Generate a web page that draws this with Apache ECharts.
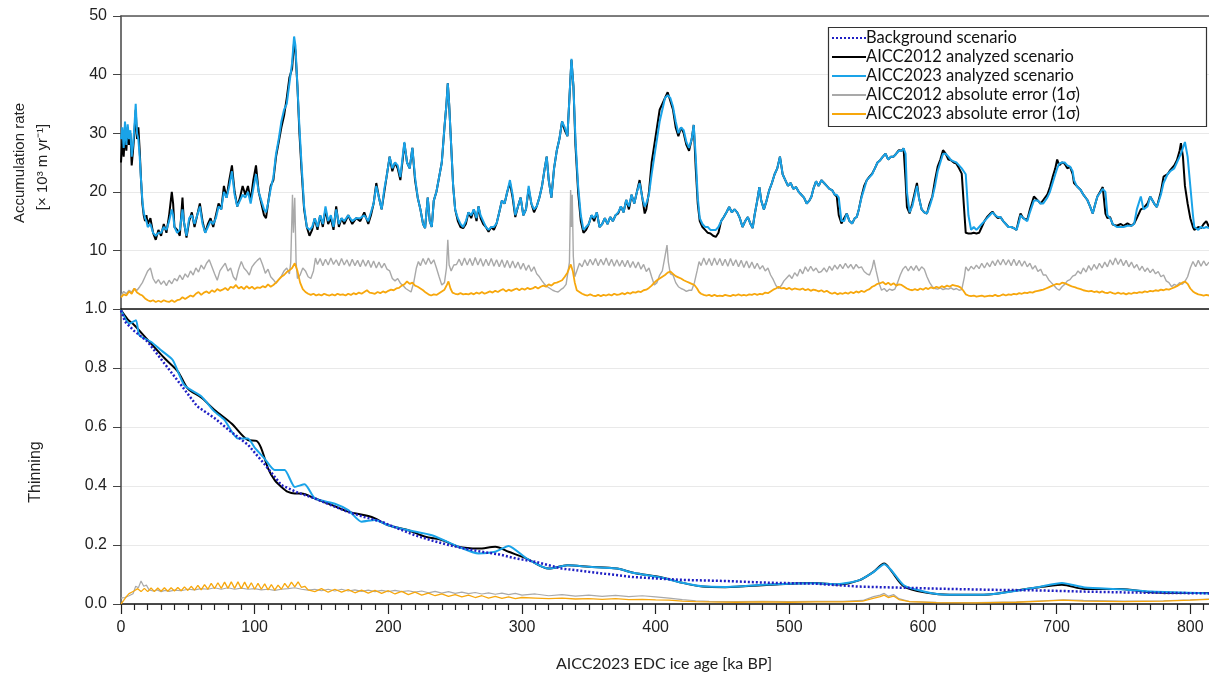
<!DOCTYPE html>
<html>
<head>
<meta charset="utf-8">
<script src="https://cdn.jsdelivr.net/npm/echarts@6/dist/echarts.min.js"></script>
<style>html,body{margin:0;padding:0;background:#fff}#c{width:1209px;height:675px}</style>
</head>
<body>
<div id="c"></div>
<script>
// ---- DATA (flat [age, value, age, value, ...]) ----
const xTickLabels = [0, 100, 200, 300, 400, 500, 600, 700, 800];
const accTicks = [0, 10, 20, 30, 40, 50];
const thinTicks = [0, 0.2, 0.4, 0.6, 0.8, 1.0];

const acc2012 = [0,25,1,29,2,26,3,30,4,27,5,31,6,28,7,30,8,24.5,9,27,10,30,11,34,12,29,13,31,14,27,15,22,16,18,17,16,18,15,19,16,20,14.5,22,15.5,24,13,26,11.8,28,13.5,30,12.5,32,14.5,34,13,36,16,38,20,39,18,40,14,42,13.5,44,12.5,46,19,47,15,49,12.2,51,15,53,16.5,55,14,57,16,59,18,61,15,63,13,65,14.5,67,15.5,69,14,71,16,73,18,75,17,77,21,79,19,81,22,83,24.5,85,20,87,17.5,89,19,91,21,93,19.5,95,21,97,18.5,99,22,101,24.5,103,20,105,18,107,16,108.5,15.5,110,18,112,21,114,22,116,26,118,28.5,120,31,122,33,124,36,126,39.5,128,41,129.5,45.5,130.5,44,132,38,133.5,30,135,24,137,17,139,14,141,12.5,143,13.5,145,15.5,147,13.5,149,16,151,14,153,17,155,14.5,157,15.5,159,13.5,161,17.5,163,14,165,15.5,167,14.5,170,16,173,14.5,176,15.5,179,15,182,16.5,185,14.5,187,16,189,18,191,21.5,193,19,195,17,197,20,199,23,201,26,203,23.5,205,25,207,24,209,22,211,26,212,28.3,214,25,216,24,218,27.5,220,22,222,19,224,17,226,14.5,227.5,13.8,229.5,19,231,15,232.5,14,234,18.5,236,20,238,22.5,240,25,242,31,243.5,35,244.5,38.5,245.5,35,247,28,248.5,21,250,17,252,15,254,14,256,13.8,258,14.5,260,16.5,262,15.5,264,17,266,15,267.5,17.5,269,15.5,271,14.5,273,14,275,13.2,277,14,279,13.5,281,14.6,283,16.5,285,18.5,287,18,289,20,291,21.5,293,19,295,15.7,297,17.5,299,19,301,16,303,17,305,20.5,307,18,309,16.5,311,17.5,313,19,315,21,317,24,318.5,26,320,22,322,19,324,24,326,27,328,29,330,32,332,30.5,334,29.5,335.5,36,337,42.5,338.5,38,340,28,342,20,344,15,346,13,348,13.5,350,14.5,352,16,354,15,356,16.5,358,14,360,14.5,362,15.5,364,14.5,366,15.7,368,15,370,16,372,16.3,374,17.5,376,16.5,378,18.6,380,17,382,19.5,384,18,386,20,388,22,390,19,391.8,16.3,393,17,395,20,397,25,399,28,401,31,403,34,405,35,407,36,409,37,411,35.5,413,34,415,31,417,29.5,419,31,421,30,423,28,425,27,427,29,428.5,31.4,430,24,431.5,18,433,15,435,14,437,13.5,439,13,441,12.9,443,12.5,445,12.3,447,13,449,15,451,15.7,453,16.5,455,17.4,457,16.5,459,17,461,16.5,463,15.5,465,14,467,15,469,15.7,471,14.5,472.6,13.8,474,16,476,18.5,477.6,20.8,479,18.5,481,17,483,18.5,485,20.3,487,21.5,489,23,491,24,493,26,495,23,497,22,499,21,501,21.5,503,20.5,505,20.8,507,20,509,19.5,511,19,513,18,515,18.5,516.6,19.2,518,20.5,520,21.8,522,21,524,22,526,21.5,528,21,530,20.5,532,20.3,534,19.5,535.5,19.2,537,16,539,14.6,541,15.5,543,16.3,545,15,547,14.6,549,15.5,550.5,15.7,552,17,554,19.2,556,21,558,22,560,22.6,562,23.1,564,24,566,25,568,25.4,570,26,572,26.5,574,25.5,576,26,578,26,580,26.5,582,27.1,584,27,585.5,27.4,587,22,588,17.4,590,16.3,592,18,594,20,595.5,21.5,597,19,599,17,601,16.5,603,16.3,605,18,607,19.2,609,22,611,24.3,613,25.5,615,27.1,617,26.5,619,25.5,621,25.4,623,25,625,24.8,627,24,629,23.1,630.5,18,632,13,634,12.9,636,12.9,638,13,640,12.9,642,13,644,14,646,15,648,15.7,650,16.2,652,16.6,654,16,656,15.5,658,15.7,660,15,662,14.5,664,14,666,14,668,13.8,670,13.5,672,15.5,673,16.3,675,15.5,678,15.2,680,17,683,19.2,686,18.5,688,18,690,18.6,693,19.5,695,20.8,697,22.5,699,24,700.4,25.5,702,24.5,704,25,706,24.8,708,24,710,24.3,712,23,713,21.5,715,21,718,20.3,720,19.5,723,18.6,725,17.5,727,16.3,729,18,730.5,19.2,733,20.2,734.5,20.8,736.5,16.3,738,15.5,740,15.7,742,14.4,745,14.2,748,14.5,750,14.2,753,14.6,756,14.2,758,14.6,760,15.5,763,17,765,17.2,768,18,770,19.2,773,18,775,17.4,778,20,780,22.6,783,23,785,23.7,788,24.5,790,25.4,792,27,793,28.3,794.5,26,796,21,798,18,800,15.5,802,14,803,13.5,806,14,808,13.8,810,14.5,812,15,814,14];

const acc2023 = [0,29,1,31,2,27.5,3,32,4,28,5,31.5,6,29,7,30.5,8,26,9,28,10,31,11,35,12,30,13,29,14,26,15,22,16,18.5,17,16.5,18,15.5,19,15,20,14,22,14.5,24,13,26,12.5,28,13,30,13,32,14,34,13.5,36,15,38,17,39,16,40,14,42,13,44,13.5,46,17,47,15,49,12.5,51,15.5,53,16,55,14.5,57,16,59,17.5,61,14.5,63,13,65,14,67,15,69,14.5,71,15.5,73,17.5,75,17,77,20,79,19,81,21,83,23.5,85,19.5,87,17.5,89,18.5,91,19.5,93,19,95,20,97,18,99,20.5,101,23,103,20,105,18.5,107,17,108.5,16.5,110,18,112,20.5,114,22.5,116,26.5,118,29,120,32,122,34,124,35,126,38.5,128,42,129.5,46.5,130.5,45,132,38,133.5,31,135,25,137,17.5,139,14,141,13.5,143,14,145,15.5,147,14,149,16,151,14.5,153,17.5,155,15,157,16,159,14,161,17,163,14.5,165,15.5,167,15,170,16,173,15,176,15.5,179,15.5,182,16,185,15,187,16.5,189,18,191,21,193,19,195,17,197,20.5,199,23,201,26,203,24,205,25,207,24.5,209,22.5,211,26.5,212,28.5,214,25,216,24,218,27.5,220,22.5,222,19,224,17,226,14.5,227.5,13.8,229.5,19,231,15,232.5,14,234,18.5,236,20,238,22.5,240,25,242,31,243.5,35,244.5,38.5,245.5,35,247,28,248.5,21,250,17,252,15.5,254,14.5,256,14,258,15,260,16.5,262,16,264,17,266,15.5,267.5,17.5,269,16,271,15,273,14,275,13.5,277,14,279,14,281,14.6,283,16.5,285,18.5,287,18,289,20,291,22,293,19.5,295,16,297,17.5,299,19,301,16,303,17,305,21,307,18,309,17,311,17.5,313,19,315,21,317,24,318.5,26,320,22,322,19,324,24,326,27,328,29,330,32,332,31,334,29.5,335.5,36,337,42.7,338.5,38,340,29,342,21,344,16,346,13.5,348,14,350,14.5,352,16,354,15.5,356,16.5,358,14,360,14.5,362,15.5,364,14.5,366,15.7,368,15,370,16,372,16.5,374,17.5,376,16.5,378,18.6,380,17.5,382,19.5,384,18,386,20,388,21.5,390,19,391.8,17.5,393,18,395,19.5,397,23,399,26,401,29,403,32,405,34,407,36,409,36.5,411,36,413,34.5,415,32,417,30,419,31,421,30.5,423,28.5,425,27.5,427,29,428.5,31.4,430,26,431.5,19,433,15.5,435,14.5,437,14,439,14,441,13.5,443,13.5,445,13.5,447,14,449,15,451,15.7,453,16.5,455,17.4,457,16.5,459,17,461,16.5,463,15.5,465,14,467,15,469,15.7,471,14.5,472.6,13.8,474,16,476,18.5,477.6,20.8,479,18.5,481,17,483,18.5,485,20.3,487,21.5,489,23,491,24,493,26,495,23,497,22,499,21,501,21.5,503,20.5,505,20.8,507,20,509,19.5,511,19,513,18,515,18.5,516.6,19.2,518,20.5,520,21.8,522,21,524,22,526,21.5,528,21,530,20.5,532,20.3,534,19.5,535.5,19.5,537,19,539,15,541,15,543,16.3,545,15,547,14.6,549,15.5,550.5,15.7,552,17,554,19,556,20.5,558,22,560,22.5,562,23,564,24,566,25,568,25.4,570,26,572,26.5,574,25.5,576,26,578,26,580,26.5,582,27,584,27,585.5,27.4,587,26.5,588,20,590,16.5,592,17.5,594,19.5,595.5,21,597,19,599,17,601,16.5,603,16.3,605,17.5,607,19,609,21,611,23.5,613,25,615,26.5,617,26.5,619,26,621,25.4,623,25.2,625,25,627,24.5,629,24,630.5,23.5,632,23,634,16,636,13.5,638,14,640,13.5,642,14,644,14.5,646,15,648,15.5,650,16,652,16.5,654,16,656,15.7,658,15.7,660,15,662,14.5,664,14,666,14,668,13.8,670,13.5,672,15,673,16,675,15.5,678,15,680,16.5,683,18.5,686,18.5,688,18,690,18,693,19,695,20,697,21.5,699,23,700.4,24,702,24.8,704,25,706,25,708,24.5,710,24.3,712,23.5,713,22,715,21,718,20.3,720,19.5,723,18.6,725,17.5,727,16.3,729,18,730.5,19.2,733,20,734.5,20.5,736.5,20,738,16,740,15.5,742,14.5,745,14,748,14,750,14,753,14.2,756,14.2,758,14.5,760,17,763,19.2,765,17,768,17.5,770,19.2,773,18,775,17.4,778,19.5,780,21.5,783,23,785,23.5,788,24,790,25,792,26,793,26.5,794.5,27.5,796,28.5,798,26,800,21,802,16,803,14,806,13.5,808,14,810,13.8,812,14,814,13.8];

const err2012Acc = [0,2.3,2,3,4,2.6,6,3.2,8,2.9,10,3.5,12,3.2,14,3.8,16,4.5,18,5.5,20,6.5,22,7,24,5.2,26,4.4,28,5,30,4.2,32,4.8,34,4,36,4.9,38,4.3,40,5.2,42,4.8,44,5.8,46,5,48,6,50,5.4,52,6.5,54,5.8,56,7,58,6.3,60,7.5,62,6.8,64,7.8,66,8.4,68,7.2,70,6,72,4.9,74,6.5,76,7.2,78,7.8,80,6.5,82,7,84,5.5,86,4.9,88,6.8,90,8.1,92,7,94,6.5,96,5.8,98,7.2,100,7.8,102,8.3,104,8.7,106,7.5,108,6.1,110,6.8,112,5.5,114,5,116,4.4,118,5,120,5.6,122,6.5,124,7,126,6,127,8,128.3,19.5,129,13,130,19,131,8,132,5.2,134,5.8,136,7,138,6.5,140,5.5,142,5.2,144,6.5,145.5,8.7,147,7.6,149,8.6,151,7.4,153,8.5,155,7.5,157,8.7,159,7.6,161,8.4,163,7.4,165,8.6,167,7.5,169,8.4,171,7.3,173,8.5,175,7.4,177,8.3,179,7.2,181,8.4,183,7.3,185,8.3,187,7.1,189,8.2,191,7,193,8,195,7,197,7.8,199,6.8,201,6.5,203,5.2,205,4.8,207,5.2,209,4.4,211,4,213,3.5,215,3.2,217,2.9,219,4.5,221,7,222.5,8.1,224,7.4,226,8.6,228,7.6,230,8.7,232,7.7,234,8.4,236,7,238,5.5,240,4.1,242,4.5,243.5,7,244.5,11.8,245.5,7.5,247,6.5,249,7.5,251,7.6,253,8.5,255,7.4,257,8.7,259,7.5,261,8.6,263,7.4,265,8.8,267,7.5,269,8.6,271,7.3,273,8.5,275,7.4,277,8.6,279,7.3,281,8.4,283,7.2,285,8.4,287,7.1,289,8.3,291,7,293,8.2,295,7,297,8,299,6.8,301,7.8,303,6.6,305,7.5,307,6.4,309,7.2,311,6,313,5.5,315,4.8,317,4.2,319,3.8,321,3.5,323,3.2,325,3,327,2.9,329,3.3,331,3.6,333,4.2,335.5,8,336.4,20.3,337,14,337.6,19.5,338.4,9,339.5,5.5,341,6.5,343,7.8,345,7.2,347,8.4,349,7.4,351,8.5,353,7.5,355,8.6,357,7.4,359,8.5,361,7.5,363,8.7,365,7.4,367,8.5,369,7.3,371,8.4,373,7.3,375,8.3,377,7.2,379,8.3,381,7.1,383,8.1,385,7,387,8,389,6.8,391,7.6,393,6.4,395,7,397,5.5,399,4.1,401,4.5,403,5.8,405,6.5,407,9,408.5,10.9,409.5,8,411,6,413,5.8,415,4.5,417,3.8,419,3.5,421,3.3,423,3,425,3.2,427,3.2,429,4.5,431,6.5,432.5,8.1,434,7.4,436,8.7,438,7.5,440,8.6,442,7.4,444,8.7,446,7.5,448,8.6,450,7.4,452,8.5,454,7.3,456,8.6,458,7.4,460,8.4,462,7.2,464,8.3,466,7.1,468,8.2,470,7,472,8,474,6.9,476,7.8,478,6.8,480,7.4,482,6.5,484,7,486,5.8,488,5,490,4,492,3.5,494,4,496,4.8,498,5.3,500,5.8,502,5.2,504,6.2,506,5.6,508,6.8,510,6,512,7.2,514,6.4,516,7.3,518,6.5,520,7,522,6.2,524,6.4,526,7,528,6.3,530,7.3,532,6.6,534,7.5,536,6.8,538,7.6,540,6.9,542,7.8,544,7,546,7.6,548,6.8,550,7.6,552,7,554,7.2,556,6.4,558,6,560,5.8,562,7,563.3,8.4,565,6.5,567,4.5,569,3.2,571,3.5,573,3,575,3.4,577,3.2,579,3.4,581,4.5,583,5.8,585,6.8,587,7.3,589,6.5,591,7.3,593,6.6,595,7.4,597,6.5,599,7.2,601,6.8,603,5.5,605,4.5,607,3.8,609,3.5,611,3.4,613,3.6,615,3.3,617,3.5,619,3.4,621,3.6,623,3.3,625,3.5,627,3.2,629,3.3,631,5.5,632,7.2,634,6.5,636,7.3,638,6.8,640,7.5,642,6.9,644,7.8,646,7,648,7.9,650,7.2,652,8.2,654,7.4,656,8.4,658,7.5,660,8.5,662,7.5,664,8.4,666,7.4,668,8.5,670,7.4,672,8.3,674,7.3,676,8.2,678,7.2,680,7.8,682,6.8,684,7.4,686,6.4,688,6.8,690,5.8,692,5.8,694,5,696,4.5,698,4,700,3.5,702,3.2,704,3.8,706,4.2,708,4.8,710,5,712,5.6,714,5.8,716,6.5,718,6,720,7,722,6.3,724,7.4,726,6.6,728,7.6,730,6.8,732,7.8,734,7,736,8,738,7.2,740,8.4,742,7.5,744,8.7,746,7.6,748,8.5,750,7.4,752,8.3,754,7.2,756,8,758,7,760,7.6,762,6.6,764,7.3,766,6.4,768,7,770,6.2,772,6.8,774,6,776,6.4,778,5.5,780,5.8,782,4.8,784,4.5,786,3.8,788,4.2,790,4,792,4.5,794,4.2,796,4.7,798,5.5,800,7,802,8.1,804,7.2,806,8.3,808,7.3,810,8.2,812,7.4,814,8];

const err2023Acc = [0,2,2,2.5,4,2.3,6,3,8,2.6,10,3.5,12,2.8,14,2.5,16,2.3,18,1.8,20,1.5,22,1.3,24,1.5,26,1.2,28,1.4,30,1.2,32,1.5,34,1.3,36,1.2,38,1.5,40,1.2,42,1.5,44,1.6,46,2,48,1.7,50,2,52,2.3,54,2.1,56,2.6,58,2.9,60,2.4,62,2.8,64,3,66,2.7,68,3.2,70,2.9,72,3.4,74,3.1,76,3.3,78,3.6,80,3.2,82,3.8,84,3.6,86,4.1,88,3.5,90,3.8,92,3.4,94,3.9,96,3.5,98,3.8,100,3.4,102,3.7,104,3.6,106,3.9,108,3.7,110,4.2,112,3.8,114,4.1,116,4.5,118,5,120,5.5,122,5.8,124,6.3,126,6.6,128,7,130,7.8,131,8.1,132,6.5,134,4.5,136,3.4,138,2.9,140,2.6,142,2.4,144,2.6,146,2.3,148,2.5,150,2.3,152,2.6,154,2.4,156,2.3,158,2.5,160,2.3,162,2.6,164,2.4,166,2.5,168,2.3,170,2.6,172,2.4,174,2.7,176,2.5,178,2.8,180,2.6,182,2.9,184,3.2,186,2.8,188,2.7,190,2.6,192,2.9,194,2.7,196,3,198,2.8,200,3.1,202,3.3,204,3.2,206,3.5,208,3.6,210,4,212,4.2,214,4.7,216,4.3,218,4.5,220,4,222,3.8,224,3.5,226,3.2,228,2.8,230,2.5,232,2.3,234,2.5,236,2.4,238,2.7,240,3,242,3.3,244,4.2,245,4.7,246.5,3.5,248,2.8,250,2.6,252,2.5,254,2.7,256,2.5,258,2.6,260,2.5,262,2.7,264,2.5,266,2.8,268,2.6,270,2.9,272,2.6,274,2.8,276,3,278,2.8,280,3.1,282,2.9,284,3.2,286,3.4,288,3,290,3.3,292,3.1,294,3.3,296,3.5,298,3.2,300,3.5,302,3.3,304,3.6,306,3.4,308,3.5,310,3.8,312,3.5,314,3.8,316,4,318,3.8,320,4.2,322,4,324,4.4,326,4.5,328,4.7,330,4.9,332,5.5,334,6.2,336.5,7.6,338,6.5,339.5,4.5,341,3.2,343,2.9,345,2.6,347,2.4,349,2.3,351,2.5,353,2.3,355,2.2,357,2.4,359,2.2,361,2.4,363,2.3,365,2.5,367,2.3,369,2.6,371,2.4,373,2.5,375,2.7,377,2.5,379,2.8,381,2.6,383,2.9,385,2.8,387,3,389,2.9,391,3.2,393,3.3,395,3.6,397,4,399,4.5,401,4.9,403,5.2,405,5.5,407,5.8,409,6.2,411,6.4,413,6,415,5.6,417,5.4,419,5.2,421,4.9,423,4.7,425,4.5,427,4.3,429,4.1,431,3.5,432.5,2.9,434,2.6,436,2.4,438,2.3,440,2.4,442,2.2,444,2.4,446,2.2,448,2.3,450,2.2,452,2.4,454,2.3,456,2.2,458,2.4,460,2.3,462,2.5,464,2.3,466,2.4,468,2.3,470,2.5,472,2.4,474,2.6,476,2.4,478,2.6,480,2.5,482,2.8,484,2.7,486,3,488,3.3,490,3.5,492,3.8,494,3.5,496,3.6,498,3.4,500,3.6,502,3.3,504,3.5,506,3.4,508,3.3,510,3.5,512,3.2,514,3.4,516,3.1,518,3.3,520,3.2,522,3,524,3.2,526,2.9,528,3.1,530,2.8,532,2.6,534,2.8,536,2.5,538,2.7,540,2.6,542,2.8,544,2.6,546,2.9,548,2.7,550,3,552,2.8,554,3.1,556,2.9,558,3.2,560,3.4,562,3.8,564,4,566,4.3,568,4.4,570,4.6,572,4.2,574,4.5,576,4.1,578,4.4,580,4,582,4.2,584,4.1,586,3.8,588,3.5,590,3.3,592,3.2,594,3.4,596,3.2,598,3.5,600,3.3,602,3.6,604,3.4,606,3.7,608,3.5,610,3.8,612,3.6,614,3.9,616,3.7,618,4,620,3.8,622,4.1,624,4,626,3.9,628,3.7,630,3.2,632,2.5,634,2.3,636,2.2,638,2.3,640,2.1,642,2.2,644,2.3,646,2.1,648,2.2,650,2.3,652,2.2,654,2.4,656,2.2,658,2.3,660,2.5,662,2.3,664,2.5,666,2.4,668,2.6,670,2.5,672,2.7,674,2.6,676,2.8,678,2.7,680,2.9,682,2.8,684,3,686,3.1,688,3.2,690,3.3,692,3.5,694,3.7,696,3.9,698,4.1,700,4.3,702,4.2,704,4.5,706,4.4,708,4.2,710,4,712,3.8,714,3.7,716,3.5,718,3.4,720,3.2,722,3.1,724,3,726,3.1,728,2.9,730,3,732,2.8,734,3,736,2.8,738,2.7,740,2.9,742,2.7,744,2.6,746,2.8,748,2.6,750,2.7,752,2.5,754,2.7,756,2.6,758,2.8,760,2.7,762,2.9,764,2.8,766,3,768,2.9,770,3.1,772,3,774,3.2,776,3.1,778,3.3,780,3.2,782,3.4,784,3.3,786,3.5,788,3.7,790,3.9,792,4.2,794,4.5,796,4.7,798,4.3,800,3.5,802,3,804,2.7,806,2.5,808,2.4,810,2.3,812,2.4,814,2.3];

const thinBackground = [0,0.995,3,0.957,10,0.925,20,0.889,30,0.83,45,0.742,57,0.67,70,0.63,82,0.585,95,0.54,107,0.476,120,0.403,132,0.378,145,0.358,157,0.335,170,0.312,182,0.295,195,0.279,207,0.256,220,0.233,232,0.216,245,0.2,257,0.188,270,0.177,283,0.168,295,0.155,310,0.143,317,0.135,330,0.12,350,0.109,384,0.091,418,0.082,452,0.078,485,0.072,519,0.069,552,0.059,586,0.055,620,0.051,653,0.048,687,0.046,721,0.042,754,0.039,814,0.036];

const thin2012 = [0,0.996,5,0.965,10,0.945,20,0.895,32.6,0.833,42.6,0.788,50,0.73,60,0.7,70,0.658,82.7,0.612,95,0.556,101.4,0.553,105,0.527,110,0.46,115,0.42,120,0.397,125,0.38,130,0.375,135,0.375,145,0.358,157.6,0.336,170,0.313,185,0.298,190,0.29,200,0.267,215,0.25,227.7,0.228,240,0.217,252.5,0.194,267.5,0.188,280,0.194,290,0.177,303.5,0.154,320,0.12,334,0.131,350,0.126,371,0.12,384,0.105,404,0.091,418,0.074,435,0.059,452,0.057,485,0.065,519,0.071,536,0.066,552,0.08,563,0.109,571,0.137,576,0.114,586,0.059,603,0.038,620,0.031,637,0.031,653,0.034,670,0.046,687,0.057,697,0.063,704,0.065,721,0.051,748,0.051,771,0.04,814,0.037];

const thin2023 = [0,0.996,6.3,0.95,11.2,0.962,13.7,0.911,22.4,0.889,30,0.86,38.7,0.827,47.4,0.742,60,0.704,70,0.652,77.4,0.624,87.4,0.561,95,0.561,100,0.53,107.4,0.493,115,0.454,122.4,0.454,130,0.397,137.4,0.406,145,0.358,160,0.34,170,0.318,180,0.279,190,0.285,200,0.267,215,0.25,232.6,0.233,252.5,0.194,267.5,0.171,280,0.177,290,0.197,303.5,0.154,320,0.12,334,0.131,350,0.126,371,0.12,384,0.105,404,0.09,418,0.074,435,0.06,452,0.058,485,0.066,519,0.07,536,0.067,552,0.08,563,0.108,571,0.135,576,0.116,586,0.062,603,0.04,620,0.031,637,0.031,653,0.034,670,0.045,687,0.058,704,0.071,721,0.056,748,0.05,771,0.042,814,0.036];

const err2012Thin = [0,0.02,3,0.022,6,0.028,9,0.035,11,0.06,13,0.055,15,0.078,17,0.06,19,0.064,21,0.048,24,0.044,27,0.048,30,0.042,33,0.046,36,0.043,40,0.047,45,0.045,50,0.05,55,0.048,60,0.052,65,0.05,70,0.055,75,0.05,80,0.055,85,0.05,90,0.054,95,0.05,100,0.052,105,0.048,110,0.05,115,0.046,120,0.05,125,0.052,130,0.055,135,0.05,140,0.047,145,0.05,150,0.045,155,0.05,160,0.044,165,0.05,170,0.044,175,0.048,180,0.043,185,0.047,190,0.042,195,0.046,200,0.042,205,0.046,210,0.042,215,0.045,220,0.04,225,0.044,230,0.038,235,0.043,240,0.037,245,0.042,250,0.036,255,0.04,260,0.035,265,0.039,270,0.034,275,0.038,280,0.033,285,0.037,290,0.032,295,0.036,300,0.03,310,0.034,320,0.028,330,0.032,340,0.027,350,0.03,360,0.026,370,0.029,380,0.025,390,0.028,400,0.024,410,0.02,420,0.015,430,0.011,440,0.009,460,0.008,480,0.009,500,0.008,520,0.009,540,0.009,555,0.012,563,0.025,568,0.03,571,0.036,574,0.026,578,0.032,582,0.018,590,0.008,610,0.006,640,0.005,670,0.007,690,0.011,705,0.014,720,0.012,750,0.01,780,0.011,800,0.014,814,0.017];

const err2023Thin = [0,0,2,0.012,4,0.025,6,0.035,8,0.04,10,0.045,12.5,0.052,15,0.042,17.5,0.053,20,0.042,22.5,0.054,25,0.042,27.5,0.054,30,0.043,32.5,0.055,35,0.043,37.5,0.055,40,0.044,42.5,0.056,45,0.045,47.5,0.058,50,0.046,52.5,0.06,55,0.047,57.5,0.063,60,0.048,62.5,0.066,65,0.05,67.5,0.07,70,0.052,72.5,0.072,75,0.053,77.5,0.074,80,0.053,82.5,0.075,85,0.053,87.5,0.075,90,0.052,92.5,0.074,95,0.052,97.5,0.072,100,0.05,102.5,0.07,105,0.05,107.5,0.068,110,0.048,112.5,0.066,115,0.047,117.5,0.064,120,0.05,122.5,0.07,125,0.055,127.5,0.074,130,0.058,132.5,0.075,135,0.056,137.5,0.06,140,0.048,145,0.042,150,0.052,155,0.04,160,0.05,165,0.04,170,0.049,175,0.038,180,0.047,185,0.037,190,0.046,195,0.036,200,0.045,205,0.034,210,0.043,215,0.032,220,0.04,225,0.03,230,0.037,235,0.028,240,0.034,245,0.026,250,0.032,255,0.024,260,0.03,265,0.022,270,0.028,275,0.02,280,0.026,285,0.019,290,0.024,295,0.018,300,0.022,310,0.02,320,0.018,330,0.02,340,0.017,350,0.018,360,0.016,370,0.018,380,0.015,390,0.016,400,0.014,410,0.013,420,0.01,430,0.008,440,0.007,460,0.006,480,0.007,500,0.006,520,0.007,540,0.007,555,0.01,562,0.018,568,0.025,571,0.03,574,0.022,578,0.027,582,0.015,590,0.008,610,0.005,640,0.004,670,0.006,690,0.01,705,0.013,720,0.01,750,0.008,780,0.01,800,0.013,814,0.016];

const seriesNames = ['Background scenario','AICC2012 analyzed scenario','AICC2023 analyzed scenario','AICC2012 absolute error (1σ)','AICC2023 absolute error (1σ)'];

// ---- helpers ----
function pairs(flat){const o=[];for(let i=0;i<flat.length;i+=2)o.push([flat[i],flat[i+1]]);return o;}
const minorTicks=[];for(let v=10;v<=810;v+=10){if(v%100!==0)minorTicks.push(v);}

const COL = {bg:'#1f1fc4', k:'#000000', b:'#1aa3e8', g:'#a9a9a9', o:'#f7a70c'};
const XMAX = 814;
const tickFont = 'Liberation Sans, Arial, sans-serif';

function line(name, data, color, width, xi, yi, extra){
  return Object.assign({name, type:'line', data:pairs(data), xAxisIndex:xi, yAxisIndex:yi,
    showSymbol:false, symbol:'none', animation:false, silent:true,
    lineStyle:{color, width}, itemStyle:{color}}, extra||{});
}

const chart = echarts.init(document.getElementById('c'), null, {renderer:'canvas'});
chart.setOption({
  animation:false,
  backgroundColor:'#fff',
  grid:[
    {left:121, right:0, top:16, height:293},
    {left:121, right:0, top:309, height:295}
  ],
  xAxis:[
    {gridIndex:0, type:'value', min:0, max:XMAX, position:'bottom',
      axisLine:{show:true, lineStyle:{color:'#111', width:1.5}}, axisTick:{show:false}, axisLabel:{show:false}, splitLine:{show:false}},
    {gridIndex:0, type:'value', min:0, max:XMAX, position:'top',
      axisLine:{show:true, lineStyle:{color:'#555', width:1.5}}, axisTick:{show:false}, axisLabel:{show:false}, splitLine:{show:false}},
    {gridIndex:1, type:'value', min:0, max:XMAX, position:'bottom',
      axisLine:{show:true, lineStyle:{color:'#111', width:1.5}},
      axisTick:{show:true, length:10, customValues:xTickLabels, lineStyle:{color:'#222', width:1.2}},
      axisLabel:{show:true, customValues:xTickLabels, fontSize:16, color:'#222', margin:16, fontFamily:tickFont},
      splitLine:{show:false}},
    {gridIndex:1, type:'value', min:0, max:XMAX, position:'bottom',
      axisLine:{show:false},
      axisTick:{show:true, length:6, customValues:minorTicks, lineStyle:{color:'#222', width:1.2}},
      axisLabel:{show:false}, splitLine:{show:false}}
  ],
  yAxis:[
    {gridIndex:0, type:'value', min:0, max:50, interval:10,
      axisLine:{show:true, lineStyle:{color:'#444', width:1.5}},
      axisTick:{show:true, length:8, lineStyle:{color:'#444'}},
      axisLabel:{fontSize:16, color:'#222', margin:14, fontFamily:tickFont, formatter:v=>v===0?'':String(v)},
      splitLine:{show:true, lineStyle:{color:'#e9e9e9', width:1}}},
    {gridIndex:1, type:'value', min:0, max:1, interval:0.2,
      axisLine:{show:true, lineStyle:{color:'#444', width:1.5}},
      axisTick:{show:true, length:8, lineStyle:{color:'#444'}},
      axisLabel:{fontSize:16, color:'#222', margin:14, fontFamily:tickFont, formatter:v=>v.toFixed(1)},
      splitLine:{show:true, lineStyle:{color:'#e9e9e9', width:1}}}
  ],
  legend:{
    data:seriesNames, orient:'vertical', left:831, top:29, padding:0,
    itemWidth:34, itemHeight:12, itemGap:1,
    itemStyle:{opacity:0},
    textStyle:{fontSize:16.5, color:'#111', fontFamily:'Lato, Open Sans, sans-serif', lineHeight:18, padding:[0,0,0,-5]},
    selectedMode:false, z:10
  },
  graphic:[
    {type:'rect', z:5, shape:{x:828.5, y:27.5, width:378, height:99}, style:{fill:'#fff', stroke:'#333', lineWidth:1.2}},
    {type:'text', x:20, y:163, rotation:Math.PI/2, style:{text:'Accumulation rate', font:'15px Liberation Sans, Arial, sans-serif', fill:'#222', align:'center', verticalAlign:'middle'}},
    {type:'text', x:43, y:167, rotation:Math.PI/2, style:{text:'[× 10³ m yr⁻¹]', font:'15px Liberation Sans, Arial, sans-serif', fill:'#222', align:'center', verticalAlign:'middle'}},
    {type:'text', x:36, y:472, rotation:Math.PI/2, style:{text:'Thinning', font:'16px Liberation Sans, Arial, sans-serif', fill:'#222', align:'center', verticalAlign:'middle'}},
    {type:'text', x:664, y:664, style:{text:'AICC2023 EDC ice age [ka BP]', font:'16px Lato, Open Sans, sans-serif', fill:'#222', align:'center', verticalAlign:'middle'}}
  ],
  series:[
    line(seriesNames[0], thinBackground, COL.bg, 2.5, 2, 1, {lineStyle:{color:COL.bg, width:2.5, type:[2,2]}, z:4}),
    line(seriesNames[1], acc2012, COL.k, 2, 0, 0, {z:2}),
    line(seriesNames[2], acc2023, COL.b, 2, 0, 0, {z:3}),
    line(seriesNames[3], err2012Acc, COL.g, 1.4, 0, 0, {z:2}),
    line(seriesNames[4], err2023Acc, COL.o, 1.8, 0, 0, {z:3}),
    line(seriesNames[1], thin2012, COL.k, 2, 2, 1, {z:2, smooth:0.3}),
    line(seriesNames[2], thin2023, COL.b, 2, 2, 1, {z:3, smooth:0.2}),
    line(seriesNames[3], err2012Thin, COL.g, 1.2, 2, 1, {z:2}),
    line(seriesNames[4], err2023Thin, COL.o, 1.3, 2, 1, {z:3})
  ]
});
</script>
</body>
</html>
